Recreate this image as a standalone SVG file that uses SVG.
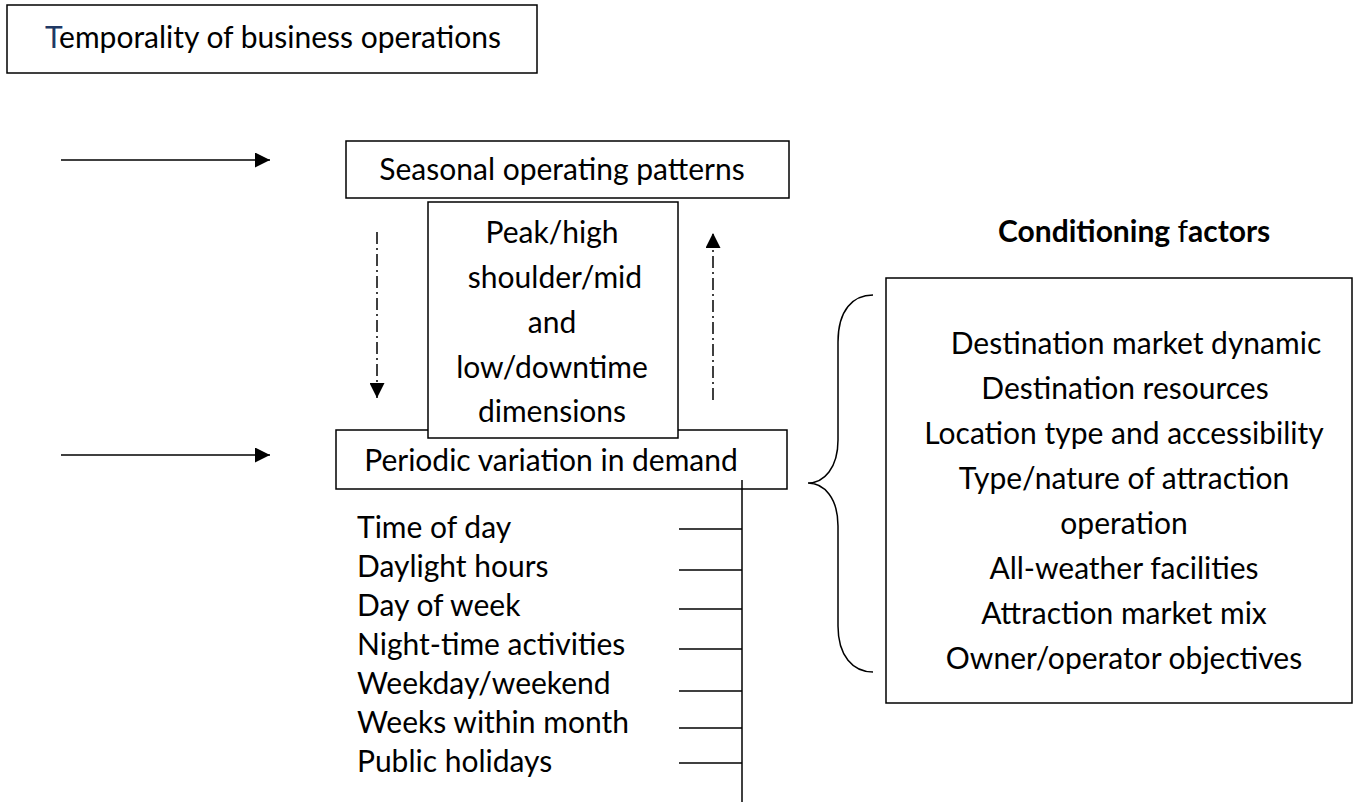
<svg xmlns="http://www.w3.org/2000/svg" width="1363" height="805" viewBox="0 0 1363 805">
<defs>
<marker id="arr" viewBox="0 0 10 10" refX="10" refY="5" markerWidth="15" markerHeight="15" markerUnits="userSpaceOnUse" orient="auto"><path d="M0,0 L10,5 L0,10 z" fill="#000"/></marker>
</defs>
<style>
.box{fill:#fff;stroke:#000;stroke-width:1.5}
.t{font-family:Lato,"Liberation Sans",sans-serif;font-size:30px;fill:#000}
.c{text-anchor:middle}
.ln{stroke:#000;stroke-width:1.5;fill:none}
.dd{stroke-dasharray:12 4 2 4}
.b{font-weight:bold}
</style>
<rect width="1363" height="805" fill="#fff"/>

<g id="n-temporality">
<rect class="box" x="7" y="5" width="530" height="68"/>
<text class="t" x="45" y="48"><tspan fill="#203864">T</tspan>emporality of business operations</text>
</g>

<g id="n-seasonal">
<rect class="box" x="346" y="141" width="443" height="57"/>
<text class="t c" x="562" y="180">Seasonal operating patterns</text>
</g>

<g id="n-periodic">
<rect class="box" x="336" y="430" width="451" height="59"/>
<text class="t c" x="551" y="471">Periodic variation in demand</text>
</g>

<g id="n-peak">
<rect class="box" x="428" y="202" width="250" height="236"/>
<text class="t c" x="552" y="243">Peak/high</text>
<text class="t c" x="555" y="288">shoulder/mid</text>
<text class="t c" x="552" y="333">and</text>
<text class="t c" x="552" y="378">low/downtime</text>
<text class="t c" x="552" y="422">dimensions</text>
</g>

<g id="n-list">
<text class="t" x="357" y="538">Time of day</text>
<text class="t" x="357" y="577">Daylight hours</text>
<text class="t" x="357" y="616">Day of week</text>
<text class="t" x="357" y="655">Night-time activities</text>
<text class="t" x="357" y="694">Weekday/weekend</text>
<text class="t" x="357" y="733">Weeks within month</text>
<text class="t" x="357" y="772">Public holidays</text>
</g>

<g id="n-conditioning">
<text class="t b" x="998" y="242">Conditioning <tspan font-weight="normal">f</tspan>actors</text>
</g>

<g id="n-factors">
<rect class="box" x="886" y="278" width="466" height="425"/>
<text class="t c" x="1136" y="354">Destination market dynamic</text>
<text class="t c" x="1125" y="399">Destination resources</text>
<text class="t c" x="1124" y="444">Location type and accessibility</text>
<text class="t c" x="1124" y="489">Type/nature of attraction</text>
<text class="t c" x="1124" y="534">operation</text>
<text class="t c" x="1124" y="579">All-weather facilities</text>
<text class="t c" x="1124" y="624">Attraction market mix</text>
<text class="t c" x="1124" y="669">Owner/operator objectives</text>
</g>

<g id="connectors">
<line class="ln" x1="61" y1="160" x2="270" y2="160" marker-end="url(#arr)"/>
<line class="ln" x1="61" y1="455" x2="270" y2="455" marker-end="url(#arr)"/>
<line class="ln dd" x1="377" y1="232" x2="377" y2="398" marker-end="url(#arr)"/>
<line class="ln dd" x1="713" y1="400" x2="713" y2="233" marker-end="url(#arr)"/>
<line class="ln" x1="742" y1="480" x2="742" y2="802"/>
<line class="ln" x1="679" y1="529" x2="742" y2="529"/>
<line class="ln" x1="679" y1="570" x2="742" y2="570"/>
<line class="ln" x1="679" y1="609" x2="742" y2="609"/>
<line class="ln" x1="679" y1="649" x2="742" y2="649"/>
<line class="ln" x1="679" y1="691" x2="742" y2="691"/>
<line class="ln" x1="679" y1="728" x2="742" y2="728"/>
<line class="ln" x1="679" y1="763" x2="742" y2="763"/>
<path class="ln" d="M873,295 C853,295 838,310 838,342 L838,440 C838,468 824,483 808,483 C824,483 838,498 838,526 L838,626 C838,656 853,672 873,672"/>
</g>
</svg>
